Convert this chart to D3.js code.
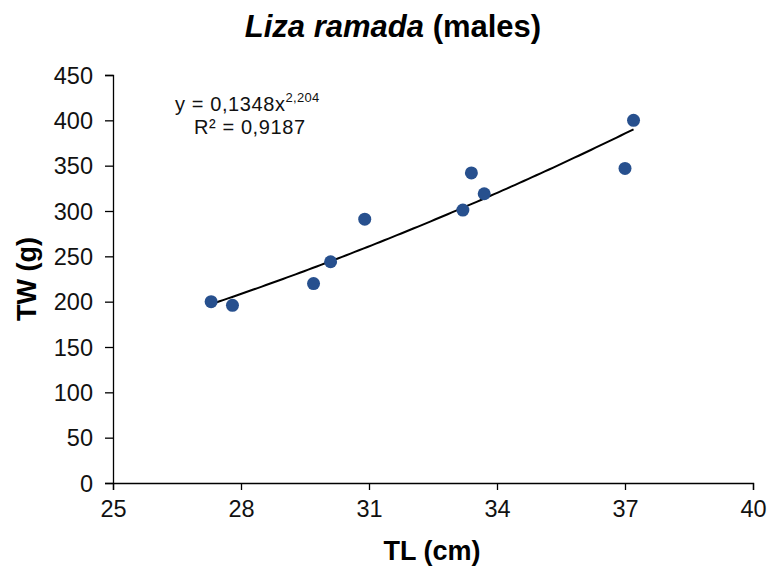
<!DOCTYPE html>
<html><head><meta charset="utf-8">
<script src="https://cdn.jsdelivr.net/npm/d3@7"></script>
<style>body{margin:0;background:#fff}svg{display:block;font-family:"Liberation Sans",Arial,sans-serif}</style>
</head><body>
<svg id="c" width="769" height="566"></svg>
<script>
const tl = [27.3, 27.8, 29.7, 30.1, 30.9, 33.2, 33.4, 33.7, 37.0, 37.2];
const tw = [200, 196, 220, 244, 291, 301, 342, 319, 347, 400];
const xTicks = [25, 28, 31, 34, 37, 40];
const yTicks = [0, 50, 100, 150, 200, 250, 300, 350, 400, 450];
const fitA = 0.1348, fitB = 2.204;

const svg = d3.select("#c");
const x = d3.scaleLinear().domain([25, 40]).range([113, 753]);
const y = d3.scaleLinear().domain([0, 450]).range([483, 75]);

// y axis
const ya = svg.append("g").attr("transform", "translate(113,0)")
  .call(d3.axisLeft(y).tickValues(yTicks).tickSizeOuter(0).tickSize(8).tickPadding(12));
ya.select(".domain").attr("stroke", "#000").attr("stroke-width", 1.3);
ya.selectAll(".tick line").attr("stroke", "#000").attr("stroke-width", 1.3);
ya.selectAll(".tick text").attr("font-size", 23.5).attr("fill", "#111").attr("dy", "0.35em");

// x axis
const xa = svg.append("g").attr("transform", "translate(0,483)")
  .call(d3.axisBottom(x).tickValues(xTicks).tickSizeOuter(0).tickSize(7).tickPadding(10));
xa.select(".domain").attr("stroke", "#000").attr("stroke-width", 1.3);
xa.selectAll(".tick line").attr("stroke", "#000").attr("stroke-width", 1.3);
xa.selectAll(".tick text").attr("font-size", 23.5).attr("fill", "#111");

// trendline
const xs = d3.range(0, 101).map(i => d3.min(tl) + (d3.max(tl) - d3.min(tl)) * i / 100);
svg.append("path")
  .datum(xs)
  .attr("fill", "none").attr("stroke", "#000").attr("stroke-width", 2)
  .attr("d", d3.line().x(d => x(d)).y(d => y(fitA * Math.pow(d, fitB))));

// points
svg.append("g").selectAll("circle").data(tl).join("circle")
  .attr("cx", d => x(d)).attr("cy", (d, i) => y(tw[i])).attr("r", 6.5)
  .attr("fill", "#27508e");

// title
const t = svg.append("text").attr("x", 393).attr("y", 37).attr("text-anchor", "middle")
  .attr("font-size", 31).attr("font-weight", "bold").attr("fill", "#000");
t.append("tspan").attr("font-style", "italic").text("Liza ramada");
t.append("tspan").text(" (males)");

// axis titles
svg.append("text").attr("x", 432).attr("y", 560).attr("text-anchor", "middle")
  .attr("font-size", 27).attr("font-weight", "bold").text("TL (cm)");
svg.append("text").attr("transform", "translate(36,279) rotate(-90)").attr("text-anchor", "middle")
  .attr("font-size", 27).attr("font-weight", "bold").text("TW (g)");

// equation
const eq = svg.append("text").attr("x", 175).attr("y", 111).attr("font-size", 20).attr("letter-spacing", 0.6).attr("fill", "#111");
eq.append("tspan").text("y = 0,1348x");
eq.append("tspan").attr("font-size", 13).attr("dy", -9).attr("letter-spacing", 0.3).text("2,204");
svg.append("text").attr("x", 194).attr("y", 134).attr("font-size", 20).attr("letter-spacing", 0.6).attr("fill", "#111").text("R² = 0,9187");
</script>
</body></html>
